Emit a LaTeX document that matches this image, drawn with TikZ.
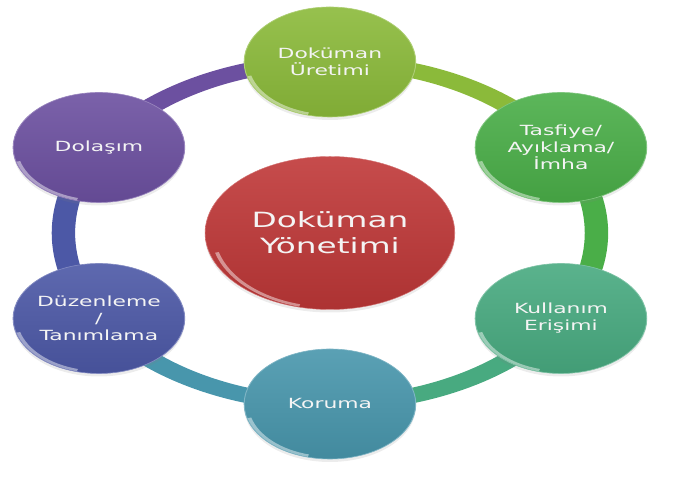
\documentclass[tikz,border=0pt]{standalone}
\usepackage{fontspec}
\setmainfont{DejaVu Sans}
\usepackage{tikz}
\usetikzlibrary{shapes.geometric, backgrounds, shadows}

\definecolor{cUret}{RGB}{139,186,58}
\definecolor{cTasf}{RGB}{74,174,72}
\definecolor{cKull}{RGB}{72,170,128}
\definecolor{cKoru}{RGB}{72,150,172}
\definecolor{cDuze}{RGB}{76,88,166}
\definecolor{cDola}{RGB}{108,80,160}
\definecolor{cMerk}{RGB}{192,56,56}
\definecolor{yazi}{RGB}{244,244,244}

\begin{document}
\begin{tikzpicture}[x=1pt, y=1pt,
    halka/.style={circle, minimum size=110pt, inner sep=0pt, align=center,
        top color=#1!90!white, bottom color=#1!92!black, draw=#1!70!white, line width=.6pt,
        text=yazi, font=\fontsize{14}{17}\selectfont,
        drop shadow={opacity=.15, shadow xshift=0pt, shadow yshift=-3pt}},
    parlak/.style={path picture={\draw[white, opacity=.45, line width=2.5pt]
        (path picture bounding box.center) ++(195:#1) arc[start angle=195, end angle=255, radius=#1];}},
    bant/.style={line width=15pt, draw=#1}]
    \useasboundingbox (0,0) rectangle (678,478);
    % Dugumler
    \begin{scope}[transform canvas={xscale=1.56}, shift={(211.5,245)}]
        \node[ellipse, minimum width=160pt, minimum height=153pt, inner sep=0pt, align=center,
            top color=cMerk!90!white, bottom color=cMerk!90!black, draw=cMerk!70!white,
            text=yazi, font=\fontsize{21}{26}\selectfont, parlak=75pt,
            drop shadow={opacity=.15, shadow xshift=0pt, shadow yshift=-3pt}] (merkez) at (0,0) {Doküman\\Yönetimi};
        \node[halka=cUret, parlak=53.5pt] (uret) at (90:171) {Doküman\\Üretimi};
        \node[halka=cTasf, parlak=53.5pt] (tasf) at (30:171) {Tasfiye/\\Ayıklama/\\İmha};
        \node[halka=cKull, parlak=53.5pt] (kull) at (-30:171) {Kullanım\\Erişimi};
        \node[halka=cKoru, parlak=53.5pt] (koru) at (-90:171) {Koruma};
        \node[halka=cDuze, parlak=53.5pt] (duze) at (-150:171) {Düzenleme\\/\\Tanımlama};
        \node[halka=cDola, parlak=53.5pt] (dola) at (150:171) {Dolaşım};
    \end{scope}
    % Halka
    \begin{scope}[on background layer]
    \begin{scope}[transform canvas={xscale=1.56}]
        \foreach \bas/\son/\aci/\renk [evaluate=\aci as \cik using \aci-90, evaluate=\aci as \gir using \aci+30]
            in {uret/tasf/90/cUret, tasf/kull/30/cTasf, kull/koru/-30/cKull,
                koru/duze/-90/cKoru, duze/dola/-150/cDuze, dola/uret/150/cDola}
            \draw[bant=\renk] (\bas.center) to[out=\cik, in=\gir, looseness=.91] (\son.center);
    \end{scope}
    \end{scope}
\end{tikzpicture}
\end{document}
